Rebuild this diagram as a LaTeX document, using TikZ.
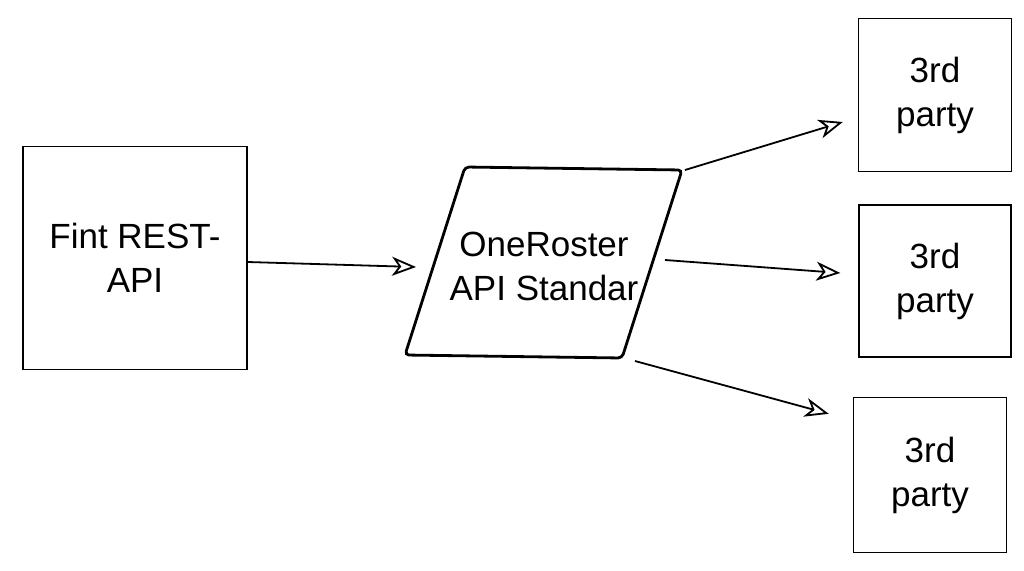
\documentclass[tikz,border=0pt]{standalone}
\usepackage{fontspec}
\setmainfont{Liberation Sans}
\usepackage{tikz}
\usetikzlibrary{arrows.meta,calc}

\begin{document}
\begin{tikzpicture}[x=1pt,y=-1pt,
	box/.style={draw, line width=1.4pt, align=center, font=\fontsize{35}{44}\selectfont},
	flow/.style={-{Stealth[open,length=24pt,width=19pt,inset=7pt]}, line width=1.8pt}]
		% 0. 画布大小
		\useasboundingbox (0,0) rectangle (1024,570);
		
		% 1. 左侧方框
		\node[box, minimum width=224pt, minimum height=223pt] (fint) at (135,258) {Fint REST-\\API};
		
		% 2. 中间平行四边形 (四个角点)
		\coordinate (pTL) at (465,167);
		\coordinate (pTR) at (682,170);
		\coordinate (pBR) at (622,358);
		\coordinate (pBL) at (405,355);
		\draw[line width=2.8pt, rounded corners=4pt] (pTL) -- (pTR) -- (pBR) -- (pBL) -- cycle;
		\node[box, draw=none] (para) at (544,266) {OneRoster\\API Standar};
		
		% 3. 右侧三个方框
		\node[box, minimum width=153pt, minimum height=153pt] (b1) at (935,95) {3rd\\party};
		\node[box, minimum width=152pt, minimum height=152pt] (b2) at (935,281) {3rd\\party};
		\node[box, minimum width=153pt, minimum height=155pt] (b3) at (930,475) {3rd\\party};
		
		% 4. 箭头
		\coordinate (inP) at (416,267);
		\coordinate (outP) at (665,260);
		\draw[flow] ([yshift=-4pt]fint.east) -- (inP);
		\draw[flow] ([xshift=3pt]pTR) -- ([xshift=-15pt,yshift=-27pt]b1.west);
		\draw[flow] (outP) -- ([xshift=-18pt,yshift=8pt]b2.west);
		\draw[flow] ([xshift=13pt,yshift=-3pt]pBR) -- ([xshift=-24pt,yshift=-17pt]b3.north west);
		
	\end{tikzpicture}
\end{document}
